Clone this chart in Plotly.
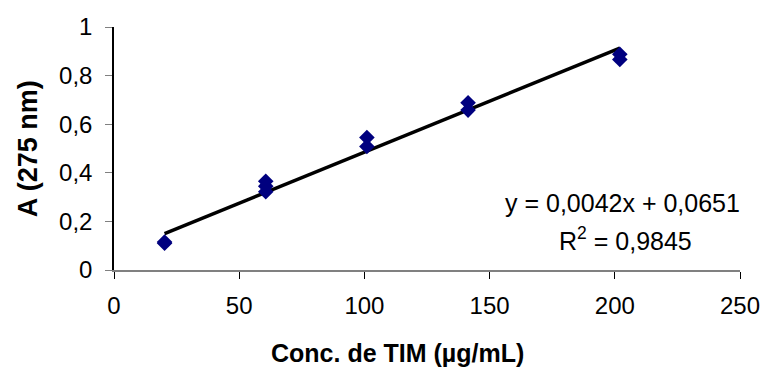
import plotly.graph_objects as go

# Calibration data: TIM concentration (µg/mL) vs absorbance at 275 nm
conc = [20.2, 20.2, 60.6, 60.6, 60.6, 101, 101, 141.4, 141.4, 202, 202]
absorb = [0.110, 0.115, 0.365, 0.345, 0.322, 0.545, 0.508, 0.688, 0.658, 0.888, 0.866]

# Linear fit reported on the chart
slope = 0.0042
intercept = 0.0651
r2 = 0.9845

x_ticks = [0, 50, 100, 150, 200, 250]
x_ticktext = ["0", "50", "100", "150", "200", "250"]
y_ticks = [0, 0.2, 0.4, 0.6, 0.8, 1]
y_ticktext = ["0", "0,2", "0,4", "0,6", "0,8", "1"]

fit_x = [min(conc), max(conc)]
fit_y = [slope * v + intercept for v in fit_x]

FONT = "Liberation Sans, Arial, sans-serif"

W, H = 772, 374
L, R, T, B = 114, 26, 27, 104
pw, ph = W - L - R, H - T - B


def px_x(px):
    return (px - L) / pw


def px_y(py):
    return (H - B - py) / ph


fig = go.Figure()
fig.add_trace(go.Scatter(
    x=fit_x, y=fit_y, mode="lines",
    line=dict(color="black", width=3.5),
    hoverinfo="skip", showlegend=False,
))
fig.add_trace(go.Scatter(
    x=conc, y=absorb, mode="markers",
    marker=dict(symbol="diamond", size=12, color="#00007f"),
    showlegend=False,
))


def fmt(v, nd):
    return f"{v:.{nd}f}".replace(".", ",")


eq_text = f"y = {fmt(slope, 4)}x + {fmt(intercept, 4)}"
r2_text = f"R<sup>2</sup> = {fmt(r2, 4)}"

fig.add_annotation(x=px_x(627), y=px_y(203), xref="paper", yref="paper",
                   xanchor="center", yanchor="middle", text=eq_text,
                   showarrow=False, font=dict(family=FONT, size=25, color="black"))
fig.add_annotation(x=px_x(630), y=px_y(239), xref="paper", yref="paper",
                   xanchor="center", yanchor="middle", text=r2_text,
                   showarrow=False, font=dict(family=FONT, size=25, color="black"))

fig.add_annotation(x=px_x(400), y=px_y(353), xref="paper", yref="paper",
                   xanchor="center", yanchor="middle",
                   text="<b>Conc. de TIM (µg/mL)</b>", showarrow=False,
                   font=dict(family=FONT, size=25, color="black"))
fig.add_annotation(x=px_x(27), y=0.5, xref="paper", yref="paper",
                   xanchor="center", yanchor="middle",
                   text="<b>A (275 nm)</b>", textangle=-90, showarrow=False,
                   font=dict(family=FONT, size=27, color="black"))

fig.update_layout(
    width=W, height=H,
    margin=dict(l=L, r=R, t=T, b=B),
    paper_bgcolor="white", plot_bgcolor="white",
    font=dict(family=FONT, size=24, color="black"),
)
fig.update_xaxes(
    range=[0, 250], tickvals=x_ticks, ticktext=x_ticktext,
    showgrid=False, zeroline=False,
    showline=True, linecolor="#808080", linewidth=1.5,
    ticks="outside", ticklen=7, tickcolor="black", tickwidth=1,
    tickfont=dict(family=FONT, size=24), ticklabelstandoff=6,
)
fig.update_yaxes(
    range=[0, 1], tickvals=y_ticks, ticktext=y_ticktext,
    showgrid=False, zeroline=False,
    showline=True, linecolor="black", linewidth=1.5,
    ticks="outside", ticklen=7, tickcolor="#808080", tickwidth=1,
    tickfont=dict(family=FONT, size=24), ticklabelstandoff=8,
)

fig.write_html("out.html")
